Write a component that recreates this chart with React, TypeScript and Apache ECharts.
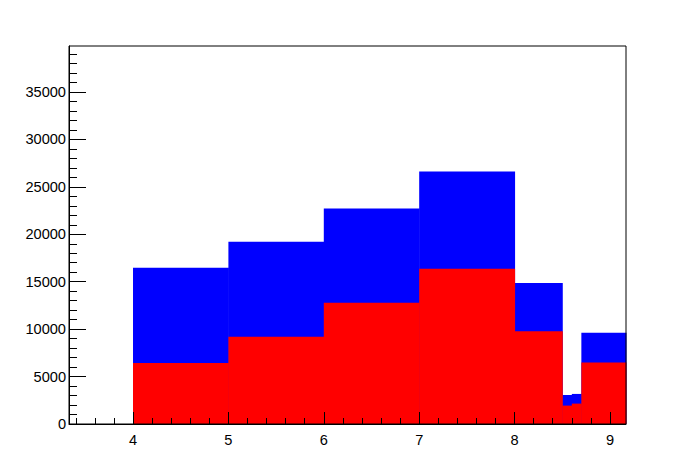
import React, { useEffect, useRef } from "react";
import * as echarts from "echarts";

const binEdges = [4, 5, 6, 7, 8, 8.5, 8.6, 8.7, 9.3];
const totalCounts = [16480, 19220, 22710, 26620, 14860, 3060, 3170, 9610];
const subsetCounts = [6440, 9190, 12780, 16370, 9790, 1940, 2150, 6480];
const xMajorTicks = [4, 5, 6, 7, 8, 9];
const xMinorTicks = [3.4, 3.6, 3.8, 4.2, 4.4, 4.6, 4.8, 5.2, 5.4, 5.6, 5.8, 6.2, 6.4, 6.6, 6.8, 7.2, 7.4, 7.6, 7.8, 8.2, 8.4, 8.6, 8.8, 9.0];
const yMajorTicks = [0, 5000, 10000, 15000, 20000, 25000, 30000, 35000];
const yMinorTicks = [1000, 2000, 3000, 4000, 6000, 7000, 8000, 9000, 11000, 12000, 13000, 14000, 16000, 17000, 18000, 19000, 21000, 22000, 23000, 24000, 26000, 27000, 28000, 29000, 31000, 32000, 33000, 34000, 36000, 37000, 38000, 39000];

const X_MIN = 3.329;
const X_MAX = 9.168;
const Y_MAX = 39850;

function toBins(counts: number[]) {
  return counts.map((v, i) => [binEdges[i], binEdges[i + 1], v]);
}

function makeRender(fill: string) {
  return (params: any, api: any) => {
    const x0 = api.value(0);
    const x1 = api.value(1);
    const v = api.value(2);
    const p0 = api.coord([x0, v]);
    const p1 = api.coord([x1, 0]);
    const cs = params.coordSys;
    const rect = echarts.graphic.clipRectByRect(
      { x: p0[0], y: p0[1], width: p1[0] - p0[0], height: p1[1] - p0[1] },
      { x: cs.x, y: cs.y, width: cs.width, height: cs.height }
    );
    if (!rect) return null;
    return {
      type: "rect",
      shape: { x: rect.x, y: rect.y, width: rect.width + 0.5, height: rect.height },
      style: { fill },
    };
  };
}

export default function App() {
  const ref = useRef<HTMLDivElement>(null);
  useEffect(() => {
    if (!ref.current) return;
    const chart = echarts.init(ref.current, undefined, { renderer: "svg" });
    const labelStyle = {
      color: "#000",
      fontFamily: "Liberation Sans, Arial, sans-serif",
      fontSize: 14.6,
      formatter: (v: number) => String(Math.round(v)),
    };
    chart.setOption({
      animation: false,
      backgroundColor: "#fff",
      grid: {
        left: 69,
        top: 46,
        right: 70,
        bottom: 48,
        show: true,
        borderColor: "#000",
        borderWidth: 1,
        backgroundColor: "transparent",
        z: 10,
      },
      xAxis: [
        {
          type: "value",
          min: X_MIN,
          max: X_MAX,
          position: "bottom",
          splitLine: { show: false },
          axisLine: { show: true, onZero: false, lineStyle: { color: "#000", width: 1 } },
          axisTick: { show: true, inside: true, length: 12, customValues: xMajorTicks, lineStyle: { color: "#000" } },
          axisLabel: { show: true, margin: 8, customValues: xMajorTicks, ...labelStyle },
          z: 10,
        },
        {
          type: "value",
          min: X_MIN,
          max: X_MAX,
          position: "bottom",
          splitLine: { show: false },
          axisLine: { show: false, onZero: false },
          axisTick: { show: true, inside: true, length: 6, customValues: xMinorTicks, lineStyle: { color: "#000" } },
          axisLabel: { show: false },
          z: 10,
        },
      ],
      yAxis: [
        {
          type: "value",
          min: 0,
          max: Y_MAX,
          position: "left",
          splitLine: { show: false },
          axisLine: { show: true, onZero: false, lineStyle: { color: "#000", width: 1 } },
          axisTick: { show: true, inside: true, length: 17, customValues: yMajorTicks, lineStyle: { color: "#000" } },
          axisLabel: { show: true, margin: 3, customValues: yMajorTicks, ...labelStyle },
          z: 10,
        },
        {
          type: "value",
          min: 0,
          max: Y_MAX,
          position: "left",
          splitLine: { show: false },
          axisLine: { show: false, onZero: false },
          axisTick: { show: true, inside: true, length: 8, customValues: yMinorTicks, lineStyle: { color: "#000" } },
          axisLabel: { show: false },
          z: 10,
        },
      ],
      series: [
        {
          type: "custom",
          name: "total",
          xAxisIndex: 0,
          yAxisIndex: 0,
          data: toBins(totalCounts),
          renderItem: makeRender("#0000ff"),
          encode: { x: [0, 1], y: 2 },
          z: 1,
        },
        {
          type: "custom",
          name: "subset",
          xAxisIndex: 0,
          yAxisIndex: 0,
          data: toBins(subsetCounts),
          renderItem: makeRender("#ff0000"),
          encode: { x: [0, 1], y: 2 },
          z: 2,
        },
      ],
    });
    return () => chart.dispose();
  }, []);
  return <div ref={ref} style={{ width: 696, height: 472, position: "absolute", left: 0, top: 0 }} />;
}
